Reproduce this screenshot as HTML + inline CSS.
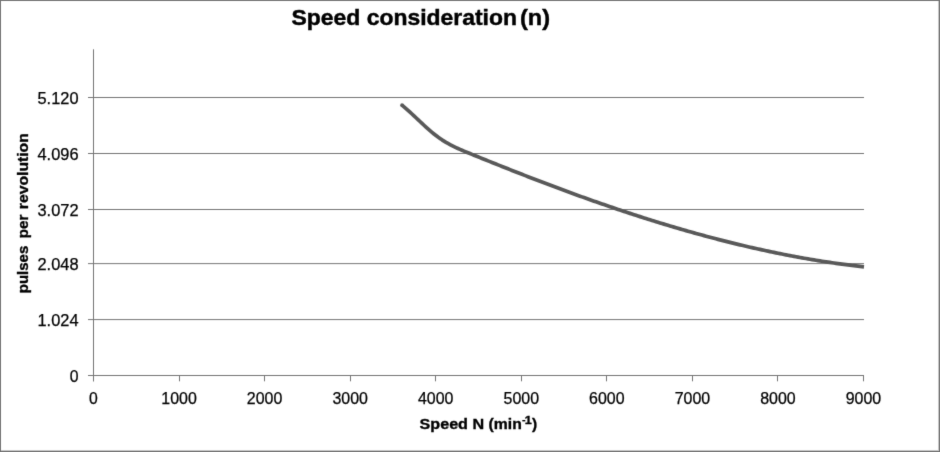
<!DOCTYPE html>
<html><head><meta charset="utf-8"><style>
html,body{margin:0;padding:0;background:#fff;}
svg{display:block;}
text{font-family:"Liberation Sans",sans-serif;}
</style></head><body>
<svg width="940" height="452" viewBox="0 0 940 452">
<defs><filter id="bl" color-interpolation-filters="sRGB" x="0" y="0" width="940" height="452" filterUnits="userSpaceOnUse"><feConvolveMatrix order="3" kernelMatrix="0.0100 0.0800 0.0100 0.0800 0.6400 0.0800 0.0100 0.0800 0.0100" divisor="1" edgeMode="duplicate" preserveAlpha="true"/></filter></defs>
<g filter="url(#bl)">
<rect x="0" y="0" width="940" height="452" fill="#fff"/>
<rect x="0.5" y="0.5" width="938.5" height="450.5" fill="none" stroke="#747474" stroke-width="1"/>
<line x1="938.5" y1="1" x2="938.5" y2="451" stroke="#c8c8c8" stroke-width="1"/>
<line x1="1" y1="450.5" x2="939" y2="450.5" stroke="#c8c8c8" stroke-width="1"/>
<line x1="939.5" y1="0" x2="939.5" y2="452" stroke="#747474" stroke-width="1"/>
<line x1="0" y1="451.5" x2="940" y2="451.5" stroke="#747474" stroke-width="1"/>
<g stroke="#767676" stroke-width="1">
<line x1="88" y1="97.5" x2="864" y2="97.5"/>
<line x1="88" y1="153.5" x2="864" y2="153.5"/>
<line x1="88" y1="209.5" x2="864" y2="209.5"/>
<line x1="88" y1="263.62" x2="864" y2="263.62"/>
<line x1="88" y1="319.58" x2="864" y2="319.58"/>
<line x1="88" y1="375.5" x2="864" y2="375.5"/>
<line x1="93.5" y1="49.3" x2="93.5" y2="381.3"/>
<line x1="93.5" y1="375" x2="93.5" y2="381.3"/>
<line x1="179.5" y1="375" x2="179.5" y2="381.3"/>
<line x1="264.5" y1="375" x2="264.5" y2="381.3"/>
<line x1="350.5" y1="375" x2="350.5" y2="381.3"/>
<line x1="435.5" y1="375" x2="435.5" y2="381.3"/>
<line x1="521.5" y1="375" x2="521.5" y2="381.3"/>
<line x1="606.5" y1="375" x2="606.5" y2="381.3"/>
<line x1="692.5" y1="375" x2="692.5" y2="381.3"/>
<line x1="777.5" y1="375" x2="777.5" y2="381.3"/>
<line x1="863.5" y1="375" x2="863.5" y2="381.3"/>
</g>
<path d="M402.0,105.20 L404.0,106.86 L406.0,108.58 L408.0,110.35 L410.0,112.16 L412.0,114.01 L414.0,115.87 L416.0,117.76 L418.0,119.64 L420.0,121.53 L422.0,123.41 L424.0,125.27 L426.0,127.10 L428.0,128.90 L430.0,130.65 L432.0,132.35 L434.0,133.99 L436.0,135.56 L438.0,137.06 L440.0,138.47 L442.0,139.82 L444.0,141.09 L446.0,142.30 L448.0,143.45 L450.0,144.54 L452.0,145.59 L454.0,146.59 L456.0,147.55 L458.0,148.47 L460.0,149.36 L462.0,150.23 L464.0,151.08 L466.0,151.92 L468.0,152.74 L470.0,153.55 L472.0,154.37 L474.0,155.18 L476.0,155.99 L478.0,156.81 L480.0,157.62 L482.0,158.42 L484.0,159.23 L486.0,160.04 L488.0,160.85 L490.0,161.65 L492.0,162.45 L494.0,163.25 L496.0,164.05 L498.0,164.85 L500.0,165.65 L502.0,166.45 L504.0,167.24 L506.0,168.04 L508.0,168.83 L510.0,169.62 L512.0,170.41 L514.0,171.20 L516.0,171.98 L518.0,172.77 L520.0,173.55 L522.0,174.33 L524.0,175.11 L526.0,175.89 L528.0,176.66 L530.0,177.44 L532.0,178.21 L534.0,178.98 L536.0,179.75 L538.0,180.52 L540.0,181.28 L542.0,182.04 L544.0,182.81 L546.0,183.56 L548.0,184.32 L550.0,185.08 L552.0,185.83 L554.0,186.58 L556.0,187.33 L558.0,188.08 L560.0,188.82 L562.0,189.57 L564.0,190.31 L566.0,191.04 L568.0,191.78 L570.0,192.51 L572.0,193.24 L574.0,193.97 L576.0,194.70 L578.0,195.42 L580.0,196.15 L582.0,196.87 L584.0,197.58 L586.0,198.30 L588.0,199.01 L590.0,199.72 L592.0,200.43 L594.0,201.13 L596.0,201.84 L598.0,202.54 L600.0,203.23 L602.0,203.93 L604.0,204.62 L606.0,205.31 L608.0,206.00 L610.0,206.68 L612.0,207.36 L614.0,208.04 L616.0,208.72 L618.0,209.39 L620.0,210.07 L622.0,210.73 L624.0,211.40 L626.0,212.06 L628.0,212.72 L630.0,213.38 L632.0,214.04 L634.0,214.69 L636.0,215.34 L638.0,215.98 L640.0,216.63 L642.0,217.27 L644.0,217.91 L646.0,218.54 L648.0,219.17 L650.0,219.80 L652.0,220.43 L654.0,221.05 L656.0,221.67 L658.0,222.29 L660.0,222.90 L662.0,223.51 L664.0,224.12 L666.0,224.73 L668.0,225.33 L670.0,225.93 L672.0,226.53 L674.0,227.12 L676.0,227.71 L678.0,228.29 L680.0,228.88 L682.0,229.46 L684.0,230.03 L686.0,230.61 L688.0,231.18 L690.0,231.75 L692.0,232.31 L694.0,232.87 L696.0,233.43 L698.0,233.98 L700.0,234.53 L702.0,235.08 L704.0,235.63 L706.0,236.17 L708.0,236.70 L710.0,237.24 L712.0,237.77 L714.0,238.29 L716.0,238.82 L718.0,239.34 L720.0,239.86 L722.0,240.37 L724.0,240.88 L726.0,241.38 L728.0,241.89 L730.0,242.39 L732.0,242.88 L734.0,243.37 L736.0,243.86 L738.0,244.35 L740.0,244.83 L742.0,245.30 L744.0,245.78 L746.0,246.25 L748.0,246.71 L750.0,247.18 L752.0,247.64 L754.0,248.09 L756.0,248.54 L758.0,248.99 L760.0,249.43 L762.0,249.87 L764.0,250.31 L766.0,250.74 L768.0,251.17 L770.0,251.59 L772.0,252.01 L774.0,252.43 L776.0,252.84 L778.0,253.25 L780.0,253.66 L782.0,254.06 L784.0,254.46 L786.0,254.85 L788.0,255.24 L790.0,255.62 L792.0,256.00 L794.0,256.38 L796.0,256.75 L798.0,257.12 L800.0,257.48 L802.0,257.84 L804.0,258.20 L806.0,258.55 L808.0,258.90 L810.0,259.24 L812.0,259.58 L814.0,259.92 L816.0,260.25 L818.0,260.57 L820.0,260.90 L822.0,261.21 L824.0,261.53 L826.0,261.84 L828.0,262.14 L830.0,262.44 L832.0,262.74 L834.0,263.03 L836.0,263.32 L838.0,263.60 L840.0,263.88 L842.0,264.15 L844.0,264.42 L846.0,264.69 L848.0,264.95 L850.0,265.20 L852.0,265.46 L854.0,265.70 L856.0,265.95 L858.0,266.18 L860.0,266.42 L862.0,266.65 L864.0,266.87" fill="none" stroke="#595959" stroke-width="3.7" stroke-linecap="butt" stroke-linejoin="round"/>
<circle cx="402" cy="105.20" r="1.85" fill="#595959"/>
<g font-size="15.75" fill="#000" stroke="#000" stroke-width="0.25">
<text x="78.5" y="381.8" text-anchor="end">0</text>
<text x="78.5" y="325.9" text-anchor="end" textLength="41" lengthAdjust="spacingAndGlyphs">1.024</text>
<text x="78.5" y="269.9" text-anchor="end" textLength="41" lengthAdjust="spacingAndGlyphs">2.048</text>
<text x="78.5" y="215.8" text-anchor="end" textLength="41" lengthAdjust="spacingAndGlyphs">3.072</text>
<text x="78.5" y="159.8" text-anchor="end" textLength="41" lengthAdjust="spacingAndGlyphs">4.096</text>
<text x="78.5" y="103.8" text-anchor="end" textLength="41" lengthAdjust="spacingAndGlyphs">5.120</text>
<text x="93.5" y="404.2" text-anchor="middle">0</text>
<text x="179.1" y="404.2" text-anchor="middle" textLength="35.5" lengthAdjust="spacingAndGlyphs">1000</text>
<text x="264.6" y="404.2" text-anchor="middle" textLength="35.5" lengthAdjust="spacingAndGlyphs">2000</text>
<text x="350.2" y="404.2" text-anchor="middle" textLength="35.5" lengthAdjust="spacingAndGlyphs">3000</text>
<text x="435.7" y="404.2" text-anchor="middle" textLength="35.5" lengthAdjust="spacingAndGlyphs">4000</text>
<text x="521.3" y="404.2" text-anchor="middle" textLength="35.5" lengthAdjust="spacingAndGlyphs">5000</text>
<text x="606.8" y="404.2" text-anchor="middle" textLength="35.5" lengthAdjust="spacingAndGlyphs">6000</text>
<text x="692.4" y="404.2" text-anchor="middle" textLength="35.5" lengthAdjust="spacingAndGlyphs">7000</text>
<text x="777.9" y="404.2" text-anchor="middle" textLength="35.5" lengthAdjust="spacingAndGlyphs">8000</text>
<text x="863.5" y="404.2" text-anchor="middle" textLength="35.5" lengthAdjust="spacingAndGlyphs">9000</text>
</g>
<g font-weight="bold" fill="#000" stroke="#000" stroke-width="0.45">
<text x="291.5" y="25.3" font-size="22" textLength="225.5" lengthAdjust="spacingAndGlyphs">Speed consideration</text>
<text x="520" y="25.3" font-size="22.5" textLength="30" lengthAdjust="spacingAndGlyphs">(n)</text>
</g>
<g font-size="15.5" font-weight="bold" fill="#000" stroke="#000" stroke-width="0.35">
<text transform="translate(28,293.2) rotate(-90)" textLength="47.5" lengthAdjust="spacingAndGlyphs">pulses</text>
<text transform="translate(28,238.2) rotate(-90)" textLength="23.5" lengthAdjust="spacingAndGlyphs">per</text>
<text transform="translate(28,209.2) rotate(-90)" textLength="76" lengthAdjust="spacingAndGlyphs">revolution</text>
</g>
<g font-size="15.5" font-weight="bold" fill="#000" stroke="#000" stroke-width="0.35">
<text x="419.6" y="429" textLength="64.5" lengthAdjust="spacingAndGlyphs">Speed N</text>
<text x="488.6" y="429" textLength="33.2" lengthAdjust="spacingAndGlyphs">(min</text>
<text x="524.8" y="423.6" font-size="10.5" textLength="7" lengthAdjust="spacingAndGlyphs">1</text>
<text x="532" y="429">)</text>
</g>
<rect x="522.3" y="420" width="3" height="1.4" fill="#000"/>
</g>
</svg>
</body></html>
